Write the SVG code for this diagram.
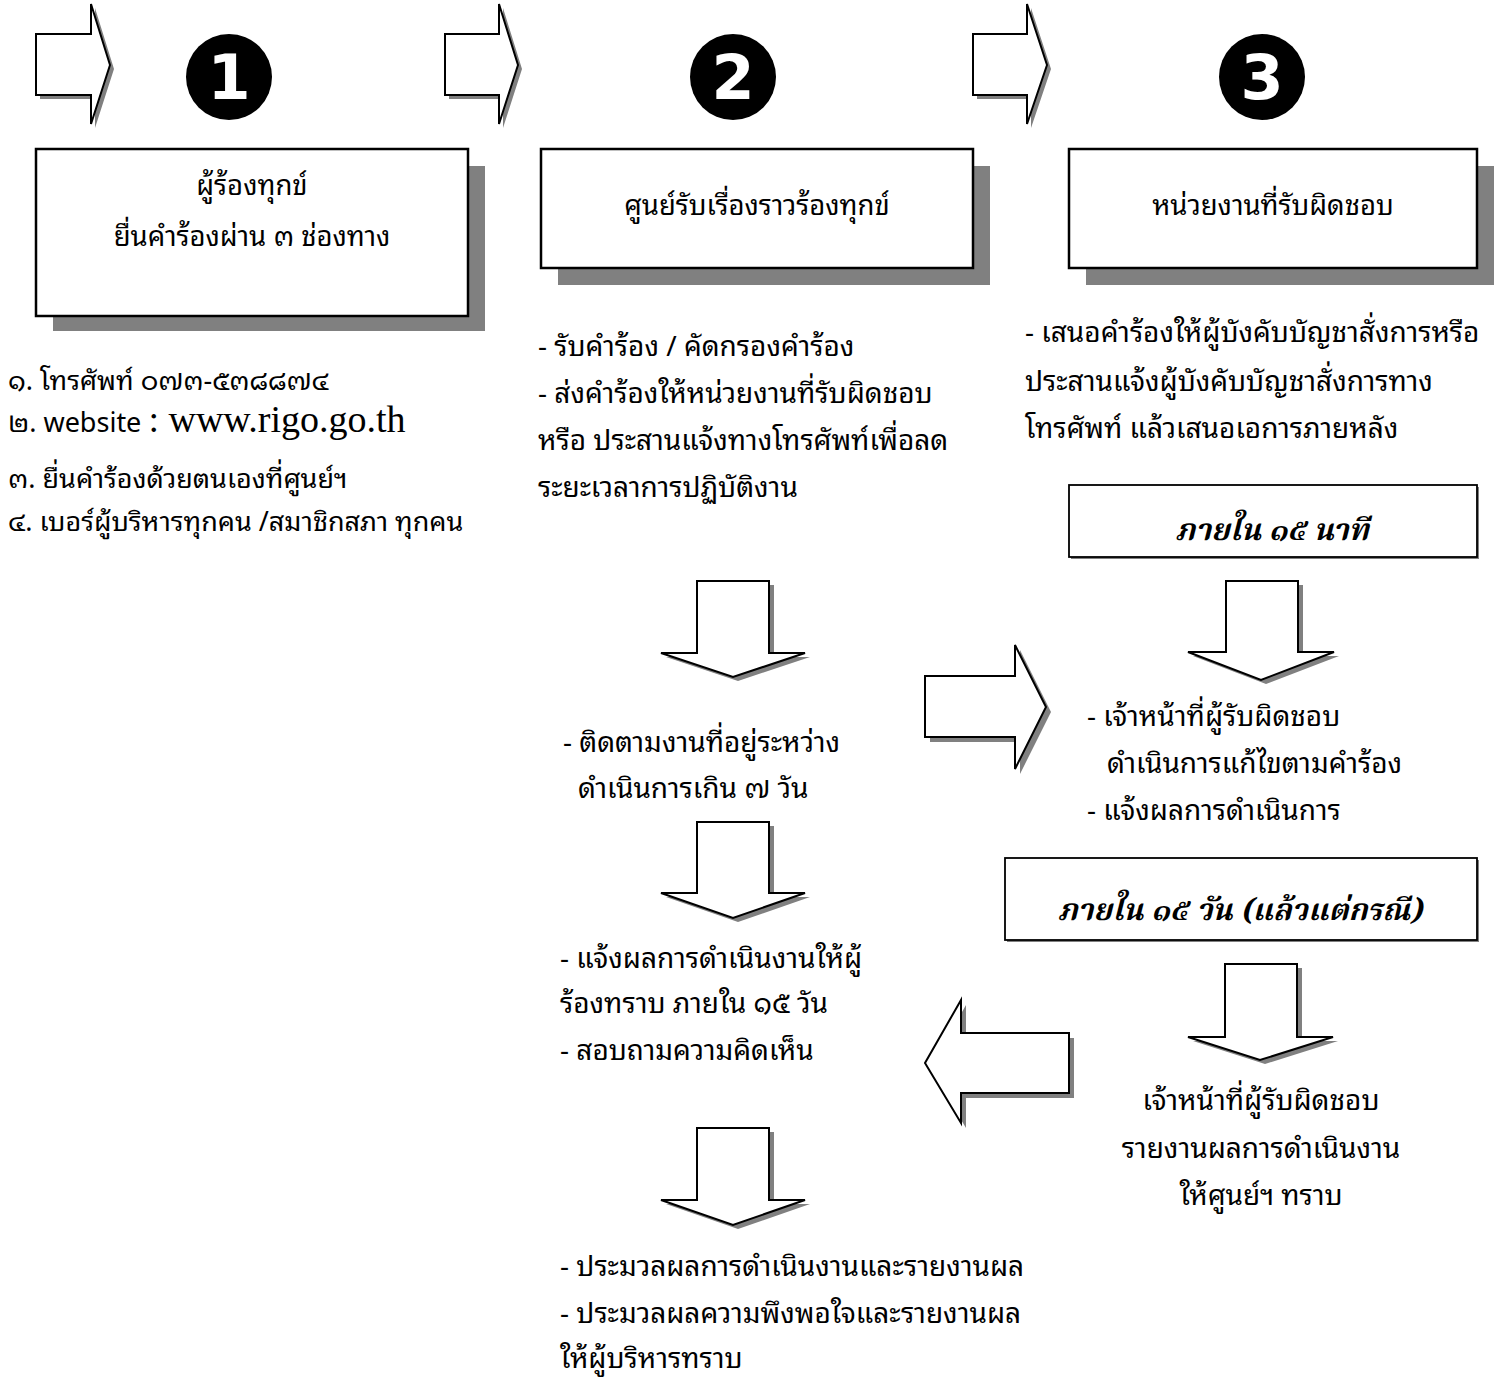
<svg xmlns="http://www.w3.org/2000/svg" width="1501" height="1382" viewBox="0 0 1501 1382">
<style>
.bg{fill:#fff}
.sh{fill:#808080;stroke:none}
.ar{fill:#fff;stroke:#000;stroke-width:2;stroke-linejoin:miter}
.box{fill:#fff;stroke:#000;stroke-width:2.5}
.tbox{fill:#fff;stroke:#000;stroke-width:1.8}
.t{font-family:"Noto Sans Thai Looped","Noto Sans Thai","Noto Sans","DejaVu Sans",sans-serif;font-size:28px;fill:#000}
.ts{font-size:27px}
.tb{font-family:"Noto Sans Thai Looped","Noto Sans Thai","Noto Sans","DejaVu Sans",sans-serif;font-size:27.5px;fill:#000}
.ti{font-family:"Noto Serif Thai","Noto Sans Thai","Liberation Serif",serif;font-size:30px;font-style:italic;font-weight:bold;fill:#000}
.web{font-family:"Liberation Serif",serif;font-size:38px;fill:#000}
.num{font-family:"DejaVu Sans",sans-serif;font-size:62px;font-weight:bold;fill:#fff}
.c{text-anchor:middle}
</style>
<rect class="bg" x="0" y="0" width="1501" height="1382"/>

<g id="connectors">
  <g id="arrow-top-1">
    <polygon class="sh" transform="translate(4,4)" points="36,34 91,34 91,4 110,65 91,124 91,95 36,95"/>
    <polygon class="ar" points="36,34 91,34 91,4 110,65 91,124 91,95 36,95"/>
  </g>
  <g id="arrow-top-2">
    <polygon class="sh" transform="translate(4,4)" points="445,34 499,34 499,4 518,65 499,124 499,95 445,95"/>
    <polygon class="ar" points="445,34 499,34 499,4 518,65 499,124 499,95 445,95"/>
  </g>
  <g id="arrow-top-3">
    <polygon class="sh" transform="translate(4,4)" points="973,34 1027,34 1027,4 1047,65 1027,124 1027,95 973,95"/>
    <polygon class="ar" points="973,34 1027,34 1027,4 1047,65 1027,124 1027,95 973,95"/>
  </g>
  <g id="arrow-down-a">
    <polygon class="sh" transform="translate(5,4)" points="697,581 769,581 769,653 805,653 733,677 661,653 697,653"/>
    <polygon class="ar" points="697,581 769,581 769,653 805,653 733,677 661,653 697,653"/>
  </g>
  <g id="arrow-down-b">
    <polygon class="sh" transform="translate(5,4)" points="697,822 769,822 769,893 805,893 733,918 661,893 697,893"/>
    <polygon class="ar" points="697,822 769,822 769,893 805,893 733,918 661,893 697,893"/>
  </g>
  <g id="arrow-down-c">
    <polygon class="sh" transform="translate(5,4)" points="697,1128 769,1128 769,1200 805,1200 733,1225 661,1200 697,1200"/>
    <polygon class="ar" points="697,1128 769,1128 769,1200 805,1200 733,1225 661,1200 697,1200"/>
  </g>
  <g id="arrow-down-d">
    <polygon class="sh" transform="translate(5,4)" points="1226,581 1298,581 1298,652 1334,652 1261,680 1188,652 1226,652"/>
    <polygon class="ar" points="1226,581 1298,581 1298,652 1334,652 1261,680 1188,652 1226,652"/>
  </g>
  <g id="arrow-down-e">
    <polygon class="sh" transform="translate(5,4)" points="1225,964 1297,964 1297,1037 1333,1037 1260,1060 1188,1037 1225,1037"/>
    <polygon class="ar" points="1225,964 1297,964 1297,1037 1333,1037 1260,1060 1188,1037 1225,1037"/>
  </g>
  <g id="arrow-right-mid">
    <polygon class="sh" transform="translate(5,5)" points="925,676 1015,676 1015,645 1046,707 1015,769 1015,737 925,737"/>
    <polygon class="ar" points="925,676 1015,676 1015,645 1046,707 1015,769 1015,737 925,737"/>
  </g>
  <g id="arrow-left-mid">
    <polygon class="sh" transform="translate(5,5)" points="1069,1033 961,1033 961,1000 925,1063 961,1123 961,1093 1069,1093"/>
    <polygon class="ar" points="1069,1033 961,1033 961,1000 925,1063 961,1123 961,1093 1069,1093"/>
  </g>
</g>

<g id="step-1">
  <circle cx="229" cy="77" r="43" fill="#000"/>
  <text class="num c" x="229" y="99">1</text>
</g>
<g id="step-2">
  <circle cx="733" cy="77" r="43" fill="#000"/>
  <text class="num c" x="733" y="99">2</text>
</g>
<g id="step-3">
  <circle cx="1262" cy="77" r="43" fill="#000"/>
  <text class="num c" x="1262" y="99">3</text>
</g>

<g id="box-complainant">
  <rect class="sh" x="53" y="166" width="432" height="165"/>
  <rect class="box" x="36" y="149" width="432" height="167"/>
  <text class="tb c" x="252" y="195">ผู้ร้องทุกข์</text>
  <text class="tb c" x="252" y="246">ยื่นคำร้องผ่าน ๓ ช่องทาง</text>
</g>

<g id="box-center">
  <rect class="sh" x="558" y="166" width="432" height="119"/>
  <rect class="box" x="541" y="149" width="432" height="119"/>
  <text class="tb c" x="757" y="215">ศูนย์รับเรื่องราวร้องทุกข์</text>
</g>

<g id="box-unit">
  <rect class="sh" x="1086" y="166" width="408" height="119"/>
  <rect class="box" x="1069" y="149" width="408" height="119"/>
  <text class="tb c" x="1273" y="215">หน่วยงานที่รับผิดชอบ</text>
</g>

<g id="channels">
  <text class="t ts" x="8" y="390">๑. โทรศัพท์ ๐๗๓-๕๓๘๘๗๔</text>
  <text class="t ts" x="8" y="432">๒. website <tspan class="web">: www.rigo.go.th</tspan></text>
  <text class="t ts" x="8" y="488">๓. ยื่นคำร้องด้วยตนเองที่ศูนย์ฯ</text>
  <text class="t ts" x="8" y="531">๔. เบอร์ผู้บริหารทุกคน /สมาชิกสภา ทุกคน</text>
</g>

<g id="center-tasks">
  <text class="t" x="538" y="356">- รับคำร้อง / คัดกรองคำร้อง</text>
  <text class="t" x="538" y="403">- ส่งคำร้องให้หน่วยงานที่รับผิดชอบ</text>
  <text class="t" x="538" y="450">หรือ ประสานแจ้งทางโทรศัพท์เพื่อลด</text>
  <text class="t" x="538" y="497">ระยะเวลาการปฏิบัติงาน</text>
</g>

<g id="unit-tasks">
  <text class="t" x="1025" y="342">- เสนอคำร้องให้ผู้บังคับบัญชาสั่งการหรือ</text>
  <text class="t" x="1025" y="391">ประสานแจ้งผู้บังคับบัญชาสั่งการทาง</text>
  <text class="t" x="1025" y="438">โทรศัพท์ แล้วเสนอเอการภายหลัง</text>
</g>

<g id="box-15min">
  <rect class="sh" x="1071" y="487" width="408" height="72"/>
  <rect class="tbox" x="1069" y="485" width="408" height="72"/>
  <text class="ti c" x="1272" y="540">ภายใน  ๑๕ นาที</text>
</g>

<g id="follow-up">
  <text class="t" x="563" y="752">- ติดตามงานที่อยู่ระหว่าง</text>
  <text class="t" x="578" y="798">ดำเนินการเกิน ๗ วัน</text>
</g>

<g id="officer-action">
  <text class="t" x="1087" y="726">- เจ้าหน้าที่ผู้รับผิดชอบ</text>
  <text class="t" x="1107" y="773">ดำเนินการแก้ไขตามคำร้อง</text>
  <text class="t" x="1087" y="820">- แจ้งผลการดำเนินการ</text>
</g>

<g id="box-15day">
  <rect class="sh" x="1007" y="860" width="472" height="82"/>
  <rect class="tbox" x="1005" y="858" width="472" height="82"/>
  <text class="ti c" x="1240" y="920">ภายใน  ๑๕  วัน (แล้วแต่กรณี)</text>
</g>

<g id="notify">
  <text class="t" x="560" y="968">- แจ้งผลการดำเนินงานให้ผู้</text>
  <text class="t" x="560" y="1013">ร้องทราบ ภายใน ๑๕ วัน</text>
  <text class="t" x="560" y="1060">- สอบถามความคิดเห็น</text>
</g>

<g id="officer-report">
  <text class="t c" x="1261" y="1110">เจ้าหน้าที่ผู้รับผิดชอบ</text>
  <text class="t c" x="1261" y="1158">รายงานผลการดำเนินงาน</text>
  <text class="t c" x="1261" y="1205">ให้ศูนย์ฯ ทราบ</text>
</g>

<g id="evaluate">
  <text class="t" x="560" y="1276">- ประมวลผลการดำเนินงานและรายงานผล</text>
  <text class="t" x="560" y="1323">- ประมวลผลความพึงพอใจและรายงานผล</text>
  <text class="t" x="560" y="1368">ให้ผู้บริหารทราบ</text>
</g>
</svg>
